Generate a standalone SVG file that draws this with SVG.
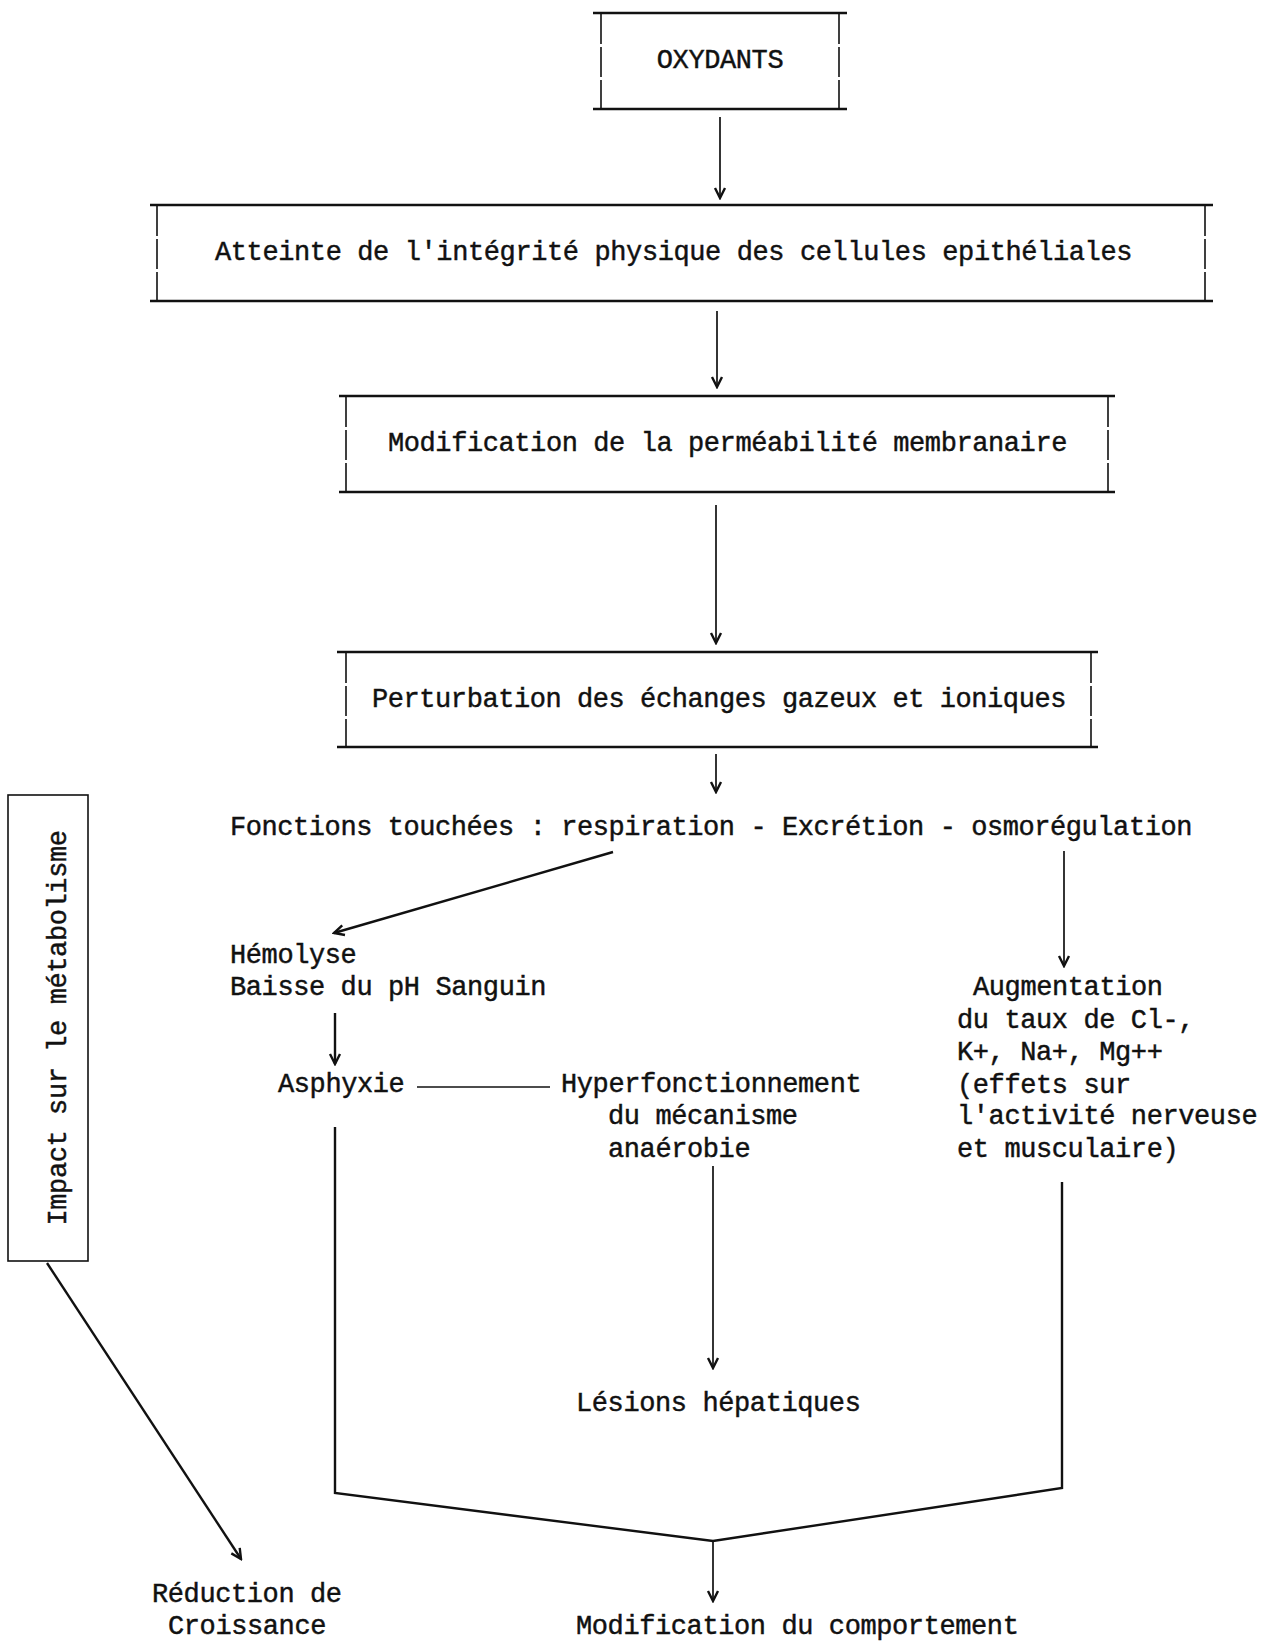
<svg xmlns="http://www.w3.org/2000/svg" width="1264" height="1643" viewBox="0 0 1264 1643">
<defs>
<style>
text{font-family:"Liberation Mono","Courier New",monospace;font-size:27px;fill:#111;stroke:#111;stroke-width:0.45;letter-spacing:-0.4px}
.h{stroke:#111;stroke-width:2.6;fill:none}
.v{stroke:#111;stroke-width:1.6;fill:none;stroke-dasharray:30 3}
.c{stroke:#111;stroke-width:1.7;fill:none}
.t{stroke:#111;stroke-width:2.4;fill:none}
</style>
<marker id="ah" viewBox="-12 -7 14 14" refX="0" refY="0" markerWidth="14" markerHeight="14" orient="auto" markerUnits="userSpaceOnUse">
<path d="M-10,-5 L0,0 L-10,5" fill="none" stroke="#111" stroke-width="2.4"/>
</marker>
</defs>
<rect width="1264" height="1643" fill="#fff"/>

<g id="n-oxydants">
<line class="h" x1="593" y1="13" x2="847" y2="13"/>
<line class="h" x1="593" y1="109" x2="847" y2="109"/>
<line class="v" x1="601" y1="14" x2="601" y2="108"/>
<line class="v" x1="839" y1="14" x2="839" y2="108"/>
<text x="720" y="68" text-anchor="middle">OXYDANTS</text>
</g>

<g id="n-atteinte">
<line class="h" x1="150" y1="205" x2="1213" y2="205"/>
<line class="h" x1="150" y1="301" x2="1213" y2="301"/>
<line class="v" x1="157" y1="206" x2="157" y2="300"/>
<line class="v" x1="1205" y1="206" x2="1205" y2="300"/>
<text x="215" y="260" textLength="917">Atteinte de l'intégrité physique des cellules epithéliales</text>
</g>

<g id="n-modification">
<line class="h" x1="339" y1="396" x2="1115" y2="396"/>
<line class="h" x1="339" y1="492" x2="1115" y2="492"/>
<line class="v" x1="346" y1="397" x2="346" y2="491"/>
<line class="v" x1="1108" y1="397" x2="1108" y2="491"/>
<text x="388" y="451" textLength="679">Modification de la perméabilité membranaire</text>
</g>

<g id="n-perturbation">
<line class="h" x1="337" y1="652" x2="1098" y2="652"/>
<line class="h" x1="337" y1="747" x2="1098" y2="747"/>
<line class="v" x1="346" y1="653" x2="346" y2="746"/>
<line class="v" x1="1091" y1="653" x2="1091" y2="746"/>
<text x="372" y="707" textLength="694">Perturbation des échanges gazeux et ioniques</text>
</g>

<g id="n-fonctions">
<text x="230" y="835" textLength="962">Fonctions touchées : respiration - Excrétion - osmorégulation</text>
</g>

<g id="n-hemolyse">
<text x="230" y="963">Hémolyse</text>
<text x="230" y="995">Baisse du pH Sanguin</text>
</g>

<g id="n-augmentation">
<text x="973" y="995">Augmentation</text>
<text x="957" y="1028">du taux de Cl-,</text>
<text x="957" y="1060">K+, Na+, Mg++</text>
<text x="957" y="1093">(effets sur</text>
<text x="957" y="1124">l'activité nerveuse</text>
<text x="957" y="1157">et musculaire)</text>
</g>

<g id="n-asphyxie">
<text x="278" y="1092">Asphyxie</text>
</g>

<g id="n-hyper">
<text x="561" y="1092">Hyperfonctionnement</text>
<text x="608" y="1124">du mécanisme</text>
<text x="608" y="1157">anaérobie</text>
</g>

<g id="n-lesions">
<text x="576" y="1411">Lésions hépatiques</text>
</g>

<g id="n-comportement">
<text x="576" y="1634">Modification du comportement</text>
</g>

<g id="n-impact">
<rect x="8" y="795" width="80" height="466" fill="none" stroke="#111" stroke-width="1.6"/>
<text transform="translate(66,1028) rotate(-90)" text-anchor="middle">Impact sur le métabolisme</text>
</g>

<g id="n-reduction">
<text x="152" y="1602">Réduction de</text>
<text x="168" y="1634">Croissance</text>
</g>

<g id="connectors">
<line class="c" x1="720" y1="117" x2="720" y2="198" marker-end="url(#ah)"/>
<line class="c" x1="717" y1="311" x2="717" y2="387" marker-end="url(#ah)"/>
<line class="c" x1="716" y1="505" x2="716" y2="643" marker-end="url(#ah)"/>
<line class="c" x1="716" y1="754" x2="716" y2="792" marker-end="url(#ah)"/>
<line class="t" x1="613" y1="852" x2="334" y2="933" marker-end="url(#ah)"/>
<line class="c" x1="1064" y1="851" x2="1064" y2="966" marker-end="url(#ah)"/>
<line class="t" x1="335" y1="1013" x2="335" y2="1064" marker-end="url(#ah)"/>
<line class="c" x1="417" y1="1087" x2="550" y2="1087"/>
<line class="c" x1="713" y1="1166" x2="713" y2="1368" marker-end="url(#ah)"/>
<polyline class="t" points="335,1127 335,1493 713,1541 1062,1488 1062,1182"/>
<line class="c" x1="713" y1="1541" x2="713" y2="1601" marker-end="url(#ah)"/>
<line class="t" x1="47" y1="1263" x2="241" y2="1559" marker-end="url(#ah)"/>
</g>
</svg>
